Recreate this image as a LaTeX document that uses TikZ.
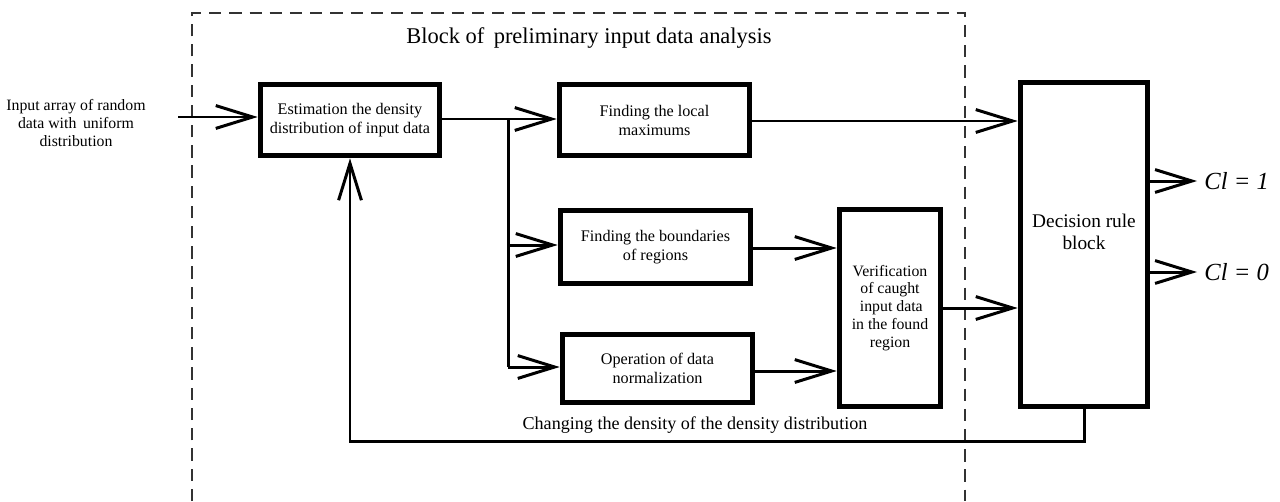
\documentclass[tikz,border=0pt]{standalone}
\usepackage{fontspec}
\setmainfont{Liberation Serif}
\usetikzlibrary{arrows.meta,calc}
\begin{document}
\begin{tikzpicture}[x=0.02cm,y=-0.02cm,
  blk/.style={draw,line width=3.2pt,inner sep=0pt,align=center,font=\fontsize{9.2}{10.8}\selectfont},
  conn/.style={line width=1.7pt},
  arr/.style={conn,-{Straight Barb[length=21pt,width=13pt,line width=1.7pt]}},
  txt/.style={align=center,inner sep=0pt},
  dsh/.style={draw=black!80,line width=0.6pt,dash pattern=on 7pt off 4.5pt}]
\useasboundingbox (0,0) rectangle (1280,501);
% dashed block
\draw[dsh] (192,501) -- (192,13) -- (965,13) -- (965,501);
\node[txt,font=\fontsize{12.8}{15}\selectfont] (title) at (589,38) {Block of\, preliminary input data analysis};
% input label
\node[txt,font=\fontsize{9}{10.5}\selectfont] (inlbl) at (76,123) {Input array of random\\ data with\, uniform\\ distribution};
% boxes
\node[blk,minimum width=3.58cm,minimum height=1.42cm] (b1) at (350,120) {Estimation the density\\ distribution of input data};
\node[blk,minimum width=3.8cm,minimum height=1.42cm] (b2) at (654.5,120) {Finding the local\\ maximums};
\node[blk,minimum width=3.8cm,minimum height=1.46cm] (b3) at (655.5,247) {Finding the boundaries\\ of regions};
\node[blk,minimum width=3.8cm,minimum height=1.36cm] (b4) at (657.5,368.5) {Operation of data\\ normalization};
\node[blk,minimum width=2.02cm,minimum height=3.94cm,font=\fontsize{9}{10.2}\selectfont] (b5) at (890,308) {Verification\\ of caught\\ \,input data\\ in the found\\ region};
\node[blk,minimum width=2.54cm,minimum height=6.48cm] (dec) at (1084,244.5) {};
\node[txt,font=\fontsize{11}{12.5}\selectfont] (dect) at (1084,232) {Decision rule\\ block};
% connectors
\coordinate (in) at (178,117);
\draw[arr] (in) -- (in -| b1.west);
\coordinate (j1) at (508,119);
\coordinate (j3) at (508,245);
\coordinate (j4) at (508,367);
\draw[conn] (b1.east |- j1) -- (j1) -- (j4);
\draw[arr] (j1) -- (j1 -| b2.west);
\draw[arr] (j3) -- (j3 -| b3.west);
\draw[arr] (j4) -- (j4 -| b4.west);
\coordinate (r2) at (760,121);
\draw[arr] (b2.east |- r2) -- (r2 -| dec.west);
\coordinate (r3) at (760,248);
\draw[arr] (b3.east |- r3) -- (b5.west |- r3);
\coordinate (r4) at (760,371);
\draw[arr] (b4.east |- r4) -- (b5.west |- r4);
\draw[arr] (b5.east) -- (b5.east -| dec.west);
\coordinate (o1) at (1197,181);
\coordinate (o0) at (1197,272);
\draw[arr] (dec.east |- o1) -- (o1);
\draw[arr] (dec.east |- o0) -- (o0);
\node[anchor=west,inner sep=0pt,font=\fontsize{14}{16}\selectfont\itshape] (cl1) at (1204,181) {Cl = 1};
\node[anchor=west,inner sep=0pt,font=\fontsize{14}{16}\selectfont\itshape] (cl0) at (1204,272) {Cl = 0};
% feedback
\coordinate (f1) at (1084,441);
\draw[arr] (dec.south) -- (f1) -- (f1 -| b1.south) -- (b1.south);
\node[txt,font=\fontsize{10.3}{12}\selectfont] (fbl) at (695,425) {Changing the density of the density distribution};
\end{tikzpicture}
\end{document}
